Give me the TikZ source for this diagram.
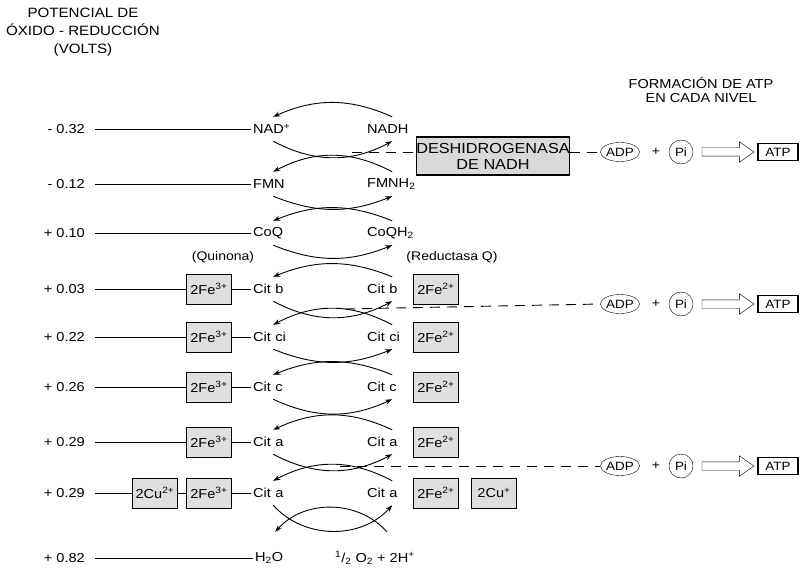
\documentclass[tikz,border=0pt]{standalone}
\usepackage{fontspec}
\setmainfont{Liberation Sans}[FakeStretch=1.12]
\usetikzlibrary{arrows.meta, shapes.geometric, shapes.arrows}

\begin{document}
\begin{tikzpicture}[x=1pt, y=1pt,
  title/.style={align=center, font=\fontsize{13.5}{18}\selectfont},
  lvl/.style={anchor=east, inner sep=0pt, font=\fontsize{13}{15}\selectfont},
  lvline/.style={line width=0.9pt},
  spl/.style={anchor=west, text width=40pt, align=left, minimum height=24pt,
              inner sep=2pt, font=\fontsize{13}{15}\selectfont},
  spr/.style={spl, text width=50pt},
  ion/.style={draw, fill=gray!25, line width=1pt, minimum width=45pt,
              minimum height=30pt, inner sep=1pt, font=\fontsize{13}{15}\selectfont},
  note/.style={font=\fontsize{12.5}{14}\selectfont},
  redox/.style={-{Stealth[length=7pt, width=5pt]}, line width=0.9pt},
  link/.style={dash pattern=on 10pt off 7pt, line width=0.9pt},
  adp/.style={draw, ellipse, minimum width=34pt, minimum height=19pt,
              inner sep=0pt, font=\fontsize{12}{13}\selectfont},
  pio/.style={draw, circle, minimum size=24pt, inner sep=0pt,
              font=\fontsize{12}{13}\selectfont},
  hollow/.style={draw, single arrow, minimum height=52pt, minimum width=20pt,
                 single arrow head extend=6pt, single arrow tip angle=70,
                 inner sep=4pt},
  atpb/.style={draw, line width=1.1pt, minimum width=40pt, minimum height=17pt,
               inner sep=1pt, font=\fontsize{12}{13}\selectfont}
]
\useasboundingbox (0,0) rectangle (800,-572);

% === Titles ===
\node[title] (ttl) at (83,-32) {POTENCIAL DE\\ÓXIDO - REDUCCIÓN\\(VOLTS)};
\node[title, font=\fontsize{13}{14.5}\selectfont] (ttr) at (701,-90)
  {FORMACIÓN DE ATP\\EN CADA NIVEL};

% === Potential levels ===
\node[lvl] (v1) at (85,-129) {- 0.32};
\node[lvl] (v2) at (85,-184) {- 0.12};
\node[lvl] (v3) at (85,-233) {+ 0.10};
\node[lvl] (v4) at (85,-289) {+ 0.03};
\node[lvl] (v5) at (85,-337) {+ 0.22};
\node[lvl] (v6) at (85,-387) {+ 0.26};
\node[lvl] (v7) at (85,-442) {+ 0.29};
\node[lvl] (v8) at (85,-493) {+ 0.29};
\node[lvl] (v9) at (85,-558) {+ 0.82};

% === Oxidised (left) and reduced (right) carriers ===
\node[spl] (nad)  at (251,-129) {NAD\textsuperscript{+}};
\node[spr] (nadh) at (365,-129) {NADH};
\node[spl] (fmn)  at (251,-184) {FMN};
\node[spr] (fmnh) at (365,-184) {FMNH\textsubscript{2}};
\node[spl] (coq)  at (251,-233) {CoQ};
\node[spr] (coqh) at (365,-233) {CoQH\textsubscript{2}};
\node[spl] (cbl)  at (251,-289) {Cit b};
\node[spr] (cbr)  at (365,-289) {Cit b};
\node[spl] (cil)  at (251,-337) {Cit ci};
\node[spr] (cir)  at (365,-337) {Cit ci};
\node[spl] (ccl)  at (251,-387) {Cit c};
\node[spr] (ccr)  at (365,-387) {Cit c};
\node[spl] (cal)  at (251,-442) {Cit a};
\node[spr] (car)  at (365,-442) {Cit a};
\node[spl] (cal2) at (251,-493) {Cit a};
\node[spr] (car2) at (365,-493) {Cit a};
\node[spl] (hwat) at (253,-558) {H\textsubscript{2}O};
\node[note, font=\fontsize{13}{15}\selectfont, minimum height=24pt] (oxy) at (375,-558)
  {\textsuperscript{1}/\textsubscript{2} O\textsubscript{2} + 2H\textsuperscript{+}};

\node[note] (quin) at (223,-257) {(Quinona)};
\node[note] (redq) at (452,-257) {(Reductasa Q)};

% === Metal centres ===
\node[ion] (fe4l) at (209,-289) {2Fe\textsuperscript{3+}};
\node[ion] (fe5l) at (209,-337) {2Fe\textsuperscript{3+}};
\node[ion] (fe6l) at (209,-387) {2Fe\textsuperscript{3+}};
\node[ion] (fe7l) at (209,-442) {2Fe\textsuperscript{3+}};
\node[ion] (fe8l) at (209,-493) {2Fe\textsuperscript{3+}};
\node[ion] (cu8l) at (155,-493) {2Cu\textsuperscript{2+}};
\node[ion] (fe4r) at (436,-289) {2Fe\textsuperscript{2+}};
\node[ion] (fe5r) at (436,-337) {2Fe\textsuperscript{2+}};
\node[ion] (fe6r) at (436,-387) {2Fe\textsuperscript{2+}};
\node[ion] (fe7r) at (436,-442) {2Fe\textsuperscript{2+}};
\node[ion] (fe8r) at (436,-493) {2Fe\textsuperscript{2+}};
\node[ion] (cu8r) at (494,-493) {2Cu\textsuperscript{+}};

% === Level lines ===
\draw[lvline] (95,-129) -- (nad.west);
\draw[lvline] (95,-184) -- (fmn.west);
\draw[lvline] (95,-233) -- (coq.west);
\draw[lvline] (95,-289) -- (fe4l.west) (fe4l.east) -- (cbl.west);
\draw[lvline] (95,-337) -- (fe5l.west) (fe5l.east) -- (cil.west);
\draw[lvline] (95,-387) -- (fe6l.west) (fe6l.east) -- (ccl.west);
\draw[lvline] (95,-442) -- (fe7l.west) (fe7l.east) -- (cal.west);
\draw[lvline] (95,-493) -- (cu8l.west) (cu8l.east) -- (fe8l.west)
              (fe8l.east) -- (cal2.west);
\draw[lvline] (95,-558) -- (hwat.west);

% === Coupled redox arrows ===
\draw[redox] (nadh.north) to[bend right=24] (nad.north);
\draw[redox] (nad.south)  to[bend right=28] (nadh.south);
\draw[redox] (fmnh.north) to[bend right=28] (fmn.north);
\draw[redox] (fmn.south)  to[bend right=22] (fmnh.south);
\draw[redox] (coqh.north) to[bend right=22] (coq.north);
\draw[redox] (coq.south)  to[bend right=22] (coqh.south);
\draw[redox] (cbr.north)  to[bend right=22] (cbl.north);
\draw[redox] (cbl.south)  to[bend right=28] (cbr.south);
\draw[redox] (cir.north)  to[bend right=28] (cil.north);
\draw[redox] (cil.south)  to[bend right=22] (cir.south);
\draw[redox] (ccr.north)  to[bend right=22] (ccl.north);
\draw[redox] (ccl.south)  to[bend right=25] (ccr.south);
\draw[redox] (car.north)  to[bend right=25] (cal.north);
\draw[redox] (cal.south)  to[bend right=28] (car.south);
\draw[redox] (car2.north) to[bend right=28] (cal2.north);
\draw[redox] (cal2.south) to[bend right=48] (car2.south);
\draw[redox] ([xshift=12pt,yshift=14pt]oxy.north) to[bend right=48]
  ([yshift=14pt]hwat.north);

% === NADH dehydrogenase ===
\node[draw, fill=gray!30, line width=1.1pt, minimum width=143pt,
      minimum height=38pt, inner sep=0pt, align=center,
      font=\fontsize{14.5}{16}\selectfont] (desh) at (493,-156)
  {DESHIDROGENASA\\DE NADH};

% === ATP formation at each site ===
\node[adp]    (adp1) at (620,-152) {ADP};
\node[note]   (pl1)  at (656,-152) {+};
\node[pio]    (pi1)  at (681,-152) {Pi};
\node[hollow] (ha1)  at (725,-152) {};
\node[atpb]   (atp1) at (778,-152) {ATP};

\node[adp]    (adp2) at (620,-304) {ADP};
\node[note]   (pl2)  at (656,-304) {+};
\node[pio]    (pi2)  at (681,-304) {Pi};
\node[hollow] (ha2)  at (725,-304) {};
\node[atpb]   (atp2) at (778,-304) {ATP};

\node[adp]    (adp3) at (620,-466) {ADP};
\node[note]   (pl3)  at (656,-466) {+};
\node[pio]    (pi3)  at (681,-466) {Pi};
\node[hollow] (ha3)  at (725,-466) {};
\node[atpb]   (atp3) at (778,-466) {ATP};

% === Coupling sites (dashed) ===
\coordinate (k1) at (352,-152);
\coordinate (k2) at (345,-309);
\coordinate (k3) at (340,-466);
\draw[link] (k1) -- (k1 -| desh.west);
\draw[link] (desh.east |- adp1) -- (adp1.west);
\draw[link] (k2) -- (adp2.west);
\draw[link] (k3) -- (adp3.west);

\end{tikzpicture}
\end{document}
